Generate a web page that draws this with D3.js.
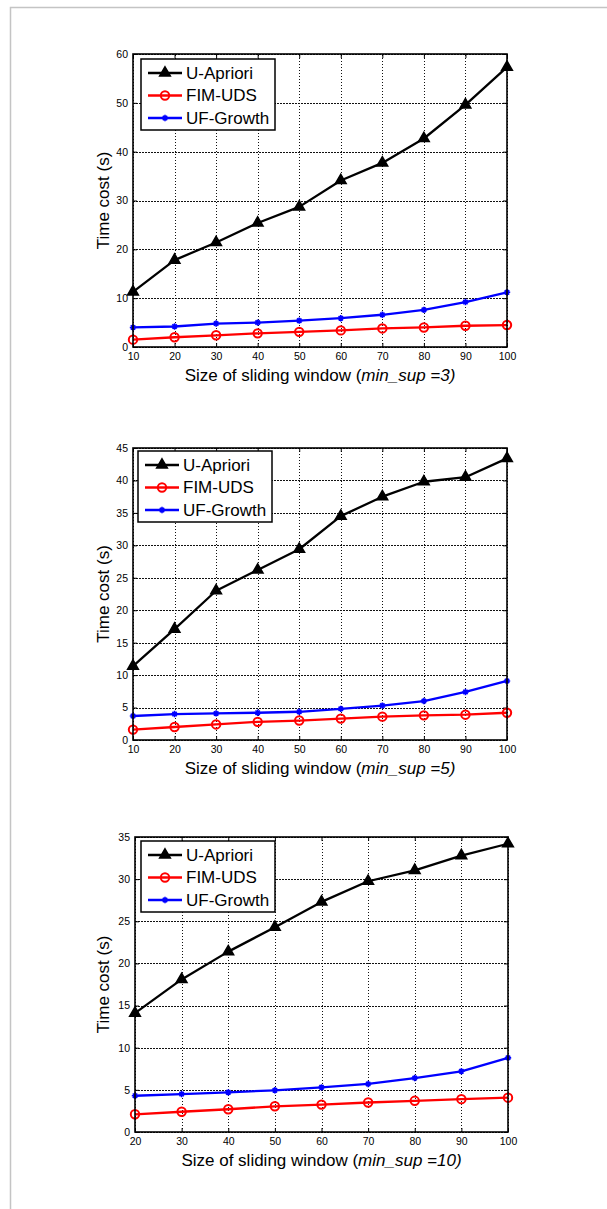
<!DOCTYPE html>
<html lang="en">
<head>
  <meta charset="UTF-8">
  <title></title>
  <script src="https://d3js.org/d3.v7.min.js"></script>
  <style>
    body { margin: 0; background: #fff; }
    text { font-family: "Liberation Sans", Arial, sans-serif; fill: #000; }
  </style>
</head>
<body>
  <svg width="607" height="1209"></svg>
  <script>
    // window sizes
    const windows1 = [10, 20, 30, 40, 50, 60, 70, 80, 90, 100];
    const windows2 = [10, 20, 30, 40, 50, 60, 70, 80, 90, 100];
    const windows3 = [20, 30, 40, 50, 60, 70, 80, 90, 100];

    // min_sup = 3
    const apriori1 = [11.3, 17.8, 21.4, 25.4, 28.7, 34.1, 37.7, 42.7, 49.6, 57.3];
    const fimuds1  = [1.5, 2.0, 2.4, 2.8, 3.1, 3.4, 3.8, 4.0, 4.35, 4.5];
    const ufgrow1  = [4.0, 4.2, 4.8, 5.0, 5.4, 5.9, 6.6, 7.6, 9.2, 11.2];

    // min_sup = 5
    const apriori2 = [11.4, 17.1, 23.0, 26.2, 29.4, 34.5, 37.5, 39.8, 40.5, 43.4];
    const fimuds2  = [1.6, 2.0, 2.4, 2.8, 3.0, 3.3, 3.6, 3.8, 3.9, 4.2];
    const ufgrow2  = [3.7, 4.0, 4.1, 4.2, 4.35, 4.8, 5.3, 6.0, 7.4, 9.1];

    // min_sup = 10
    const apriori3 = [14.1, 18.1, 21.4, 24.3, 27.3, 29.75, 31.05, 32.8, 34.2];
    const fimuds3  = [2.1, 2.4, 2.7, 3.05, 3.25, 3.5, 3.7, 3.9, 4.07];
    const ufgrow3  = [4.3, 4.5, 4.7, 4.95, 5.3, 5.7, 6.4, 7.2, 8.8];

    const yTicks1 = d3.range(0, 61, 10);
    const yTicks2 = d3.range(0, 46, 5);
    const yTicks3 = d3.range(0, 36, 5);

    const seriesNames = ["U-Apriori", "FIM-UDS", "UF-Growth"];
    const minSups = ["3", "5", "10"];

    const svg = d3.select("svg");

    // light frame round the figure
    svg.append("path")
      .attr("d", "M10.5,1209 V7.5 H607")
      .attr("fill", "none")
      .attr("stroke", "#c4c4c4")
      .attr("stroke-width", 1.5);

    const colors = ["#000", "#f00", "#00f"];

    function drawMarker(sel, kind, cx, cy) {
      if (kind === 0) {
        sel.append("path")
          .attr("d", d3.symbol(d3.symbolTriangle, 50)())
          .attr("transform", `translate(${cx},${cy})`)
          .attr("fill", "#000").attr("stroke", "#000").attr("stroke-width", 1.5);
      } else if (kind === 1) {
        sel.append("circle")
          .attr("cx", cx).attr("cy", cy).attr("r", 4.2)
          .attr("fill", "none").attr("stroke", "#f00").attr("stroke-width", 2);
      } else {
        const r = 3.2;
        sel.append("path")
          .attr("d", `M${cx - r},${cy}H${cx + r}M${cx},${cy - r}V${cy + r}` +
                     `M${cx - 2.2},${cy - 2.2}L${cx + 2.2},${cy + 2.2}M${cx - 2.2},${cy + 2.2}L${cx + 2.2},${cy - 2.2}`)
          .attr("stroke", "#00f").attr("stroke-width", 1.6);
      }
    }

    function panel(cfg) {
      const {L, R, T, B, xs, ys, yTicks, minSup, legend} = cfg;
      const g = svg.append("g");
      const x = d3.scaleLinear().domain([xs[0], xs[xs.length - 1]]).range([L, R]);
      const y = d3.scaleLinear().domain([0, yTicks[yTicks.length - 1]]).range([B, T]);

      // grid
      const gridStyle = s => {
        s.select(".domain").remove();
        s.selectAll("line").attr("stroke", "#111").attr("stroke-width", 1)
          .attr("stroke-dasharray", "1.5,1.5").attr("shape-rendering", "crispEdges");
      };
      g.append("g")
        .attr("transform", `translate(0,${B})`)
        .call(d3.axisBottom(x).tickValues(xs).tickSize(-(B - T)).tickFormat(""))
        .call(gridStyle);
      g.append("g")
        .attr("transform", `translate(${L},0)`)
        .call(d3.axisLeft(y).tickValues(yTicks).tickSize(-(R - L)).tickFormat(""))
        .call(gridStyle);

      // axes with inward ticks
      const style = s => {
        s.select(".domain").remove();
        s.selectAll("line").attr("stroke", "#000").attr("stroke-width", 1);
        s.selectAll("text").style("font-size", "10.5px").style("font-family", "Liberation Sans, Arial, sans-serif");
      };
      g.append("g").attr("transform", `translate(0,${B})`)
        .call(d3.axisBottom(x).tickValues(xs).tickSize(-4).tickPadding(6)).call(style);
      g.append("g").attr("transform", `translate(0,${T})`)
        .call(d3.axisTop(x).tickValues(xs).tickSize(-4).tickFormat("")).call(style);
      g.append("g").attr("transform", `translate(${L},0)`)
        .call(d3.axisLeft(y).tickValues(yTicks).tickSize(-4).tickPadding(5)).call(style);
      g.append("g").attr("transform", `translate(${R},0)`)
        .call(d3.axisRight(y).tickValues(yTicks).tickSize(-4).tickFormat("")).call(style);

      // series
      const line = d3.line().x((d, i) => x(xs[i])).y(d => y(d));
      ys.forEach((vals, k) => {
        g.append("path").datum(vals)
          .attr("d", line)
          .attr("fill", "none")
          .attr("stroke", colors[k])
          .attr("stroke-width", 2.3)
          .attr("stroke-linejoin", "round");
        vals.forEach((v, i) => drawMarker(g, k, x(xs[i]), y(v)));
      });

      // box
      g.append("rect")
        .attr("x", L).attr("y", T).attr("width", R - L).attr("height", B - T)
        .attr("fill", "none").attr("stroke", "#000").attr("stroke-width", 1.6);

      // legend
      const lg = g.append("g").attr("transform", `translate(${legend[0]},${legend[1]})`);
      lg.append("rect").attr("width", 134).attr("height", 71)
        .attr("fill", "#fff").attr("stroke", "#000").attr("stroke-width", 1.5);
      seriesNames.forEach((name, k) => {
        const ry = 14 + k * 22.5;
        lg.append("line").attr("x1", 7).attr("x2", 41).attr("y1", ry).attr("y2", ry)
          .attr("stroke", colors[k]).attr("stroke-width", 2.3);
        drawMarker(lg, k, 24, ry);
        lg.append("text").attr("x", 45).attr("y", ry).attr("dy", "0.35em")
          .style("font-size", "17px").text(name);
      });

      // axis titles
      const xt = g.append("text")
        .attr("x", (L + R) / 2).attr("y", B + 28).attr("dy", "0.35em")
        .attr("text-anchor", "middle").style("font-size", "17px");
      xt.append("tspan").text("Size of sliding window (");
      xt.append("tspan").style("font-style", "italic").text(`min_sup =${minSup})`);

      g.append("text")
        .attr("transform", `translate(103,${(T + B) / 2}) rotate(-90)`)
        .attr("dy", "0.35em")
        .attr("text-anchor", "middle").style("font-size", "17px")
        .text("Time cost (s)");
    }

    panel({L: 133, R: 507, T: 54, B: 347, xs: windows1, ys: [apriori1, fimuds1, ufgrow1],
           yTicks: yTicks1, minSup: minSups[0], legend: [141, 59]});
    panel({L: 133, R: 507, T: 448, B: 740, xs: windows2, ys: [apriori2, fimuds2, ufgrow2],
           yTicks: yTicks2, minSup: minSups[1], legend: [138, 451]});
    panel({L: 135, R: 508, T: 837, B: 1132, xs: windows3, ys: [apriori3, fimuds3, ufgrow3],
           yTicks: yTicks3, minSup: minSups[2], legend: [141, 841]});
  </script>
</body>
</html>
